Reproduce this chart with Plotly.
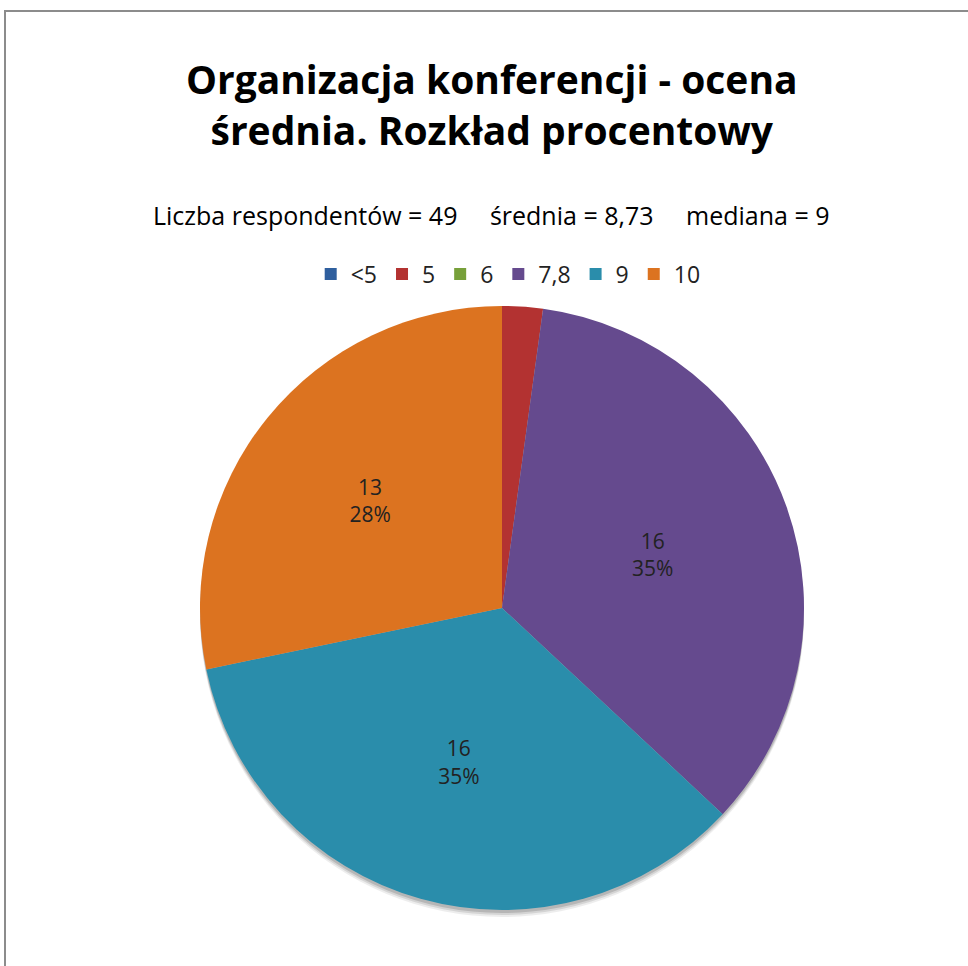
import plotly.graph_objects as go

categories = ["<5", "5", "6", "7,8", "9", "10"]
counts = [0, 1, 0, 16, 16, 13]
colors = ["#2F5F9E", "#B33231", "#77A03A", "#654A8E", "#2A8DAB", "#DC7320"]
title_text = "Organizacja konferencji - ocena<br>średnia. Rozkład procentowy"
subtitle_text = "Liczba respondentów = 49&nbsp;&nbsp;&nbsp;&nbsp;&nbsp;średnia = 8,73&nbsp;&nbsp;&nbsp;&nbsp;&nbsp;mediana = 9"

total = sum(counts)
templates = ["%{value}<br>%{percent:.0%}" if v / total > 0.05 else "" for v in counts]

W, H = 968, 966
cx, cy, r = 502, 608, 302
FONT = "Open Sans, Lato, sans-serif"

fig = go.Figure()
# soft drop shadow under the pie
for k, a in [(7, 0.07), (5, 0.10), (3, 0.14)]:
    fig.add_trace(go.Pie(
        labels=["shadow"], values=[1], sort=False, showlegend=False,
        marker=dict(colors=[f"rgba(0,0,0,{a})"], line=dict(width=0)),
        textinfo="none", hoverinfo="skip",
        domain=dict(x=[(cx - r) / W, (cx + r) / W], y=[1 - (cy + r + k) / H, 1 - (cy - r + k) / H]),
    ))
fig.add_trace(go.Pie(
    labels=categories,
    values=counts,
    sort=False,
    direction="clockwise",
    rotation=0,
    marker=dict(colors=colors, line=dict(width=0)),
    texttemplate=templates,
    textposition="inside",
    insidetextorientation="horizontal",
    textfont=dict(family=FONT, size=21, color="#222222"),
    hole=0,
    domain=dict(x=[(cx - r) / W, (cx + r) / W], y=[1 - (cy + r) / H, 1 - (cy - r) / H]),
    showlegend=True,
))

fig.update_layout(
    width=W, height=H,
    margin=dict(l=0, r=0, t=0, b=0),
    paper_bgcolor="white",
    title=dict(text=title_text, x=0.508, xanchor="center", y=1 - 94 / H, yanchor="middle",
               font=dict(family=FONT, size=39, color="black", weight="bold")),
    legend=dict(orientation="h", x=0.525, xanchor="center", y=1 - 274 / H, yanchor="middle",
                font=dict(family=FONT, size=23, color="#222222"),
                itemwidth=30, traceorder="normal"),
    annotations=[dict(text=subtitle_text, x=0.508, y=1 - 215 / H, xref="paper", yref="paper",
                      showarrow=False, xanchor="center", yanchor="middle",
                      font=dict(family=FONT, size=25, color="black"))],
    shapes=[dict(type="rect", xref="paper", yref="paper", x0=5 / W, x1=1.01, y0=-0.01, y1=1 - 11 / H,
                 line=dict(color="#8C8C8C", width=2), layer="below")],
)

fig.write_html("out.html", config={"displayModeBar": False},
               post_script="document.body.style.margin='0px';")
